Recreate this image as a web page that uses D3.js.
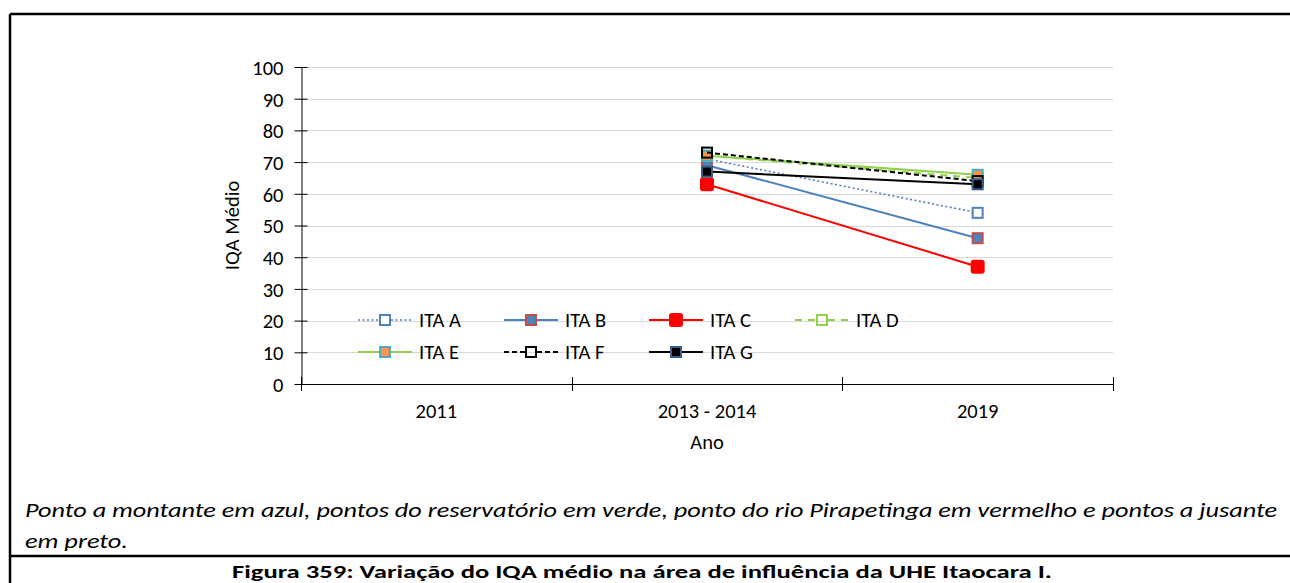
<!DOCTYPE html>
<html>
<head>
<meta charset="utf-8">
<script src="https://cdn.jsdelivr.net/npm/d3@7"></script>
<style>
  html, body { margin: 0; padding: 0; background: #fff; }
  svg { display: block; }
  text { font-family: Carlito, Calibri, Lato, "Noto Sans", sans-serif; fill: #000; }
</style>
</head>
<body>
<svg id="chart" width="1290" height="583"></svg>
<script>
// Sampling periods on the category axis
const categories = ["2011", "2013 - 2014", "2019"];
const yTicks = [0, 10, 20, 30, 40, 50, 60, 70, 80, 90, 100];

// Mean IQA per sampling point (null = no campaign)
const itaA = [null, 71, 54];
const itaB = [null, 69, 46];
const itaC = [null, 63, 37];
const itaD = [null, 72, 65];
const itaE = [null, 72, 66];
const itaF = [null, 73, 64];
const itaG = [null, 67, 63];

const seriesNames = ["ITA A", "ITA B", "ITA C", "ITA D", "ITA E", "ITA F", "ITA G"];
const seriesValues = [itaA, itaB, itaC, itaD, itaE, itaF, itaG];

// Line and marker styles per series
const styles = {
  "ITA A": { line: "#4f81bd", dash: "2,2.5", width: 1.6, mFill: "#fff", mStroke: "#4f81bd", size: 10, r: 0 },
  "ITA B": { line: "#4f81bd", dash: null, width: 2, mFill: "#4f81bd", mStroke: "#c0504d", size: 10, r: 0 },
  "ITA C": { line: "#ff0000", dash: null, width: 2, mFill: "#ff0000", mStroke: "#ff0000", size: 12, r: 2 },
  "ITA D": { line: "#92d050", dash: "7,6", width: 2, mFill: "none", mStroke: "#92d050", size: 10, r: 0 },
  "ITA E": { line: "#92d050", dash: null, width: 2, mFill: "#f79646", mStroke: "#4bacc6", size: 10, r: 0 },
  "ITA F": { line: "#000000", dash: "5,3", width: 2, mFill: "none", mStroke: "#000000", size: 10, r: 0 },
  "ITA G": { line: "#000000", dash: null, width: 2, mFill: "#000000", mStroke: "#385d8a", size: 10, r: 0 }
};

const FS = 20.5;
const svg = d3.select("#chart");

// Page frame (table borders)
const frame = svg.append("g").attr("stroke", "#000").attr("stroke-width", 2.5);
frame.append("line").attr("x1", 10).attr("x2", 1290).attr("y1", 14).attr("y2", 14);
frame.append("line").attr("x1", 10).attr("x2", 10).attr("y1", 14).attr("y2", 583);
frame.append("line").attr("x1", 10).attr("x2", 1290).attr("y1", 556).attr("y2", 556);

const plot = { left: 301, right: 1113, top: 67, bottom: 384 };

const x = d3.scalePoint().domain(categories).range([plot.left, plot.right]).padding(0.5);
const y = d3.scaleLinear().domain([0, 100]).range([plot.bottom, plot.top]);

// Horizontal gridlines
svg.append("g")
  .selectAll("line")
  .data(yTicks.filter(t => t > 0))
  .join("line")
  .attr("x1", plot.left).attr("x2", plot.right)
  .attr("y1", d => Math.round(y(d)) + 0.5).attr("y2", d => Math.round(y(d)) + 0.5)
  .attr("stroke", "#d9d9d9").attr("stroke-width", 1);

// Y axis
const yAxis = svg.append("g")
  .attr("transform", `translate(${plot.left + 0.5},0)`)
  .call(d3.axisLeft(y).tickValues(yTicks).tickSizeInner(7).tickSizeOuter(0).tickPadding(10));
yAxis.select(".domain").attr("stroke", "#000").attr("stroke-width", 1);
yAxis.selectAll(".tick line").attr("x2", 6).attr("x1", -7).attr("stroke", "#000");
yAxis.selectAll(".tick text")
  .style("font-size", FS + "px")
  .attr("fill", "#000")
  .attr("x", -18)
  .attr("dy", "0.36em");

// X axis with category boundaries as ticks
const bandW = x.step();
const boundaries = d3.range(categories.length + 1).map(i => plot.left + i * bandW);
const xAxisG = svg.append("g");
xAxisG.append("line")
  .attr("x1", plot.left).attr("x2", plot.right)
  .attr("y1", plot.bottom + 0.5).attr("y2", plot.bottom + 0.5)
  .attr("stroke", "#000");
xAxisG.selectAll("line.tk")
  .data(boundaries)
  .join("line").attr("class", "tk")
  .attr("x1", d => Math.round(d) + 0.5).attr("x2", d => Math.round(d) + 0.5)
  .attr("y1", plot.bottom - 7).attr("y2", plot.bottom + 7)
  .attr("stroke", "#000");
xAxisG.selectAll("text")
  .data(categories)
  .join("text")
  .attr("x", d => x(d))
  .attr("y", plot.bottom + 34)
  .attr("text-anchor", "middle")
  .style("font-size", FS + "px")
  .text(d => d);

// Axis titles
svg.append("text")
  .attr("x", (plot.left + plot.right) / 2)
  .attr("y", 449)
  .attr("text-anchor", "middle")
  .style("font-size", FS + "px")
  .text("Ano");
svg.append("text")
  .attr("transform", `translate(239, ${(plot.top + plot.bottom) / 2}) rotate(-90)`)
  .attr("text-anchor", "middle")
  .style("font-size", FS + "px")
  .text("IQA Médio");

// Marker helper
function marker(g, cx, cy, st) {
  const s = st.size;
  g.append("rect")
    .attr("x", cx - s / 2).attr("y", cy - s / 2)
    .attr("width", s).attr("height", s)
    .attr("rx", st.r).attr("ry", st.r)
    .attr("fill", st.mFill)
    .attr("stroke", st.mStroke)
    .attr("stroke-width", 2);
}

// Series lines and markers
const lineGen = d3.line()
  .defined(d => d.v != null)
  .x(d => x(d.c))
  .y(d => y(d.v));

const seriesG = svg.append("g");
seriesNames.forEach((name, i) => {
  const st = styles[name];
  const pts = categories.map((c, j) => ({ c, v: seriesValues[i][j] }));
  const g = seriesG.append("g");
  g.append("path")
    .attr("d", lineGen(pts))
    .attr("fill", "none")
    .attr("stroke", st.line)
    .attr("stroke-width", st.width)
    .attr("stroke-dasharray", st.dash);
  pts.filter(p => p.v != null).forEach(p => marker(g, x(p.c), y(p.v), st));
});

// Legend
const legendPos = [
  [385, 320], [531, 320], [676, 320], [822, 320],
  [385, 352], [531, 352], [676, 352]
];
const legend = svg.append("g");
seriesNames.forEach((name, i) => {
  const st = styles[name];
  const [cx, cy] = legendPos[i];
  const g = legend.append("g");
  const half = st.size / 2 + 1;
  [[cx - 27, cx - half], [cx + half, cx + 27]].forEach(([a, b]) => {
    g.append("line")
      .attr("x1", a).attr("x2", b).attr("y1", cy).attr("y2", cy)
      .attr("stroke", st.line).attr("stroke-width", st.width)
      .attr("stroke-dasharray", st.dash);
  });
  marker(g, cx, cy, st);
  g.append("text")
    .attr("x", cx + 34).attr("y", cy + 7)
    .style("font-size", FS + "px")
    .text(name);
});

// Caption and figure title
svg.append("text")
  .attr("x", 25).attr("y", 517)
  .style("font-size", "21px").attr("font-style", "italic")
  .attr("textLength", 1252).attr("lengthAdjust", "spacingAndGlyphs")
  .text("Ponto a montante em azul, pontos do reservatório em verde, ponto do rio Pirapetinga em vermelho e pontos a jusante");
svg.append("text")
  .attr("x", 25).attr("y", 548)
  .style("font-size", "21px").attr("font-style", "italic")
  .attr("textLength", 103).attr("lengthAdjust", "spacingAndGlyphs")
  .text("em preto.");
svg.append("text")
  .attr("x", 642).attr("y", 578)
  .attr("text-anchor", "middle")
  .style("font-size", "18px").attr("font-weight", "bold")
  .attr("textLength", 820).attr("lengthAdjust", "spacingAndGlyphs")
  .text("Figura 359: Variação do IQA médio na área de influência da UHE Itaocara I.");
</script>
</body>
</html>
